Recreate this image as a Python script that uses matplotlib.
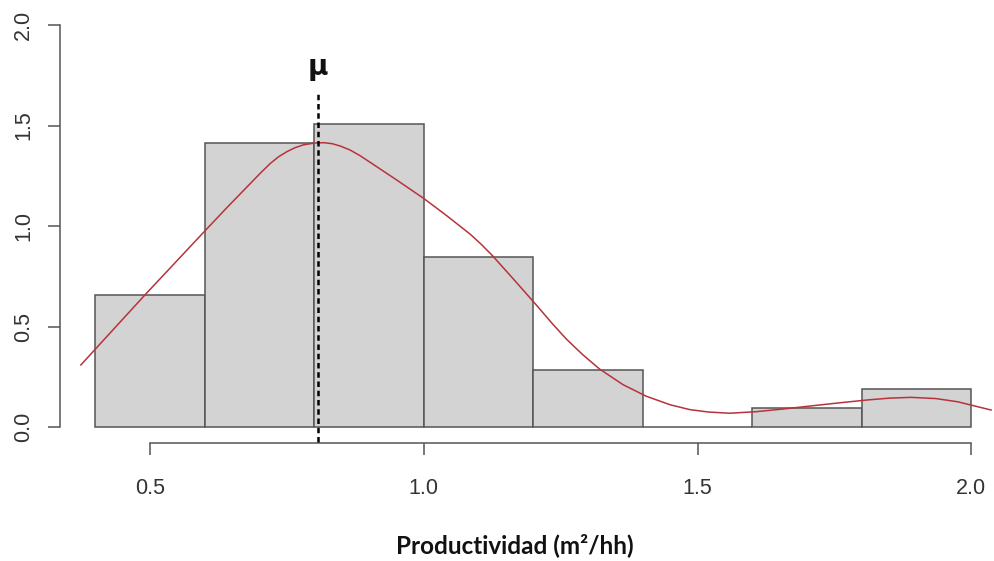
import numpy as np
import matplotlib.pyplot as plt

# histogram (density) of productividad, bins of 0.2
bin_edges = [0.4, 0.6, 0.8, 1.0, 1.2, 1.4, 1.6, 1.8, 2.0]
densidad = [0.660, 1.415, 1.509, 0.849, 0.283, 0.0, 0.094, 0.189]

# density curve
curva_x = [0.374, 0.492, 0.599, 0.641, 0.672, 0.702, 0.720, 0.735, 0.750, 0.765,
           0.780, 0.800, 0.818, 0.833, 0.848, 0.866, 0.884, 0.903, 0.951, 1.000,
           1.043, 1.085, 1.105, 1.125, 1.158, 1.205, 1.235, 1.260, 1.290, 1.321,
           1.364, 1.406, 1.450, 1.486, 1.520, 1.559, 1.608, 1.660, 1.706, 1.760,
           1.810, 1.850, 1.890, 1.935, 1.975, 2.036]
curva_y = [0.310, 0.661, 0.972, 1.093, 1.180, 1.264, 1.312, 1.345, 1.370, 1.390,
           1.404, 1.413, 1.415, 1.410, 1.398, 1.378, 1.350, 1.316, 1.229, 1.138,
           1.050, 0.960, 0.910, 0.855, 0.755, 0.610, 0.515, 0.440, 0.362, 0.290,
           0.212, 0.155, 0.112, 0.088, 0.076, 0.070, 0.078, 0.092, 0.106, 0.122,
           0.136, 0.145, 0.149, 0.143, 0.127, 0.086]

media = 0.807

x_ticks = [0.5, 1.0, 1.5, 2.0]
y_ticks = [0.0, 0.5, 1.0, 1.5, 2.0]

plt.rcParams['font.family'] = ['Liberation Sans', 'DejaVu Sans']

fig = plt.figure(figsize=(9.94, 5.61), dpi=100)
ax = fig.add_axes([0.0604, 0.2096, 0.9521, 0.7745])

widths = np.diff(bin_edges)
ax.bar(bin_edges[:-1], densidad, width=widths, align='edge',
       color='#d3d3d3', edgecolor='#555555', linewidth=1.1, zorder=2)

ax.plot(curva_x, curva_y, color='#b8323c', linewidth=1.1, zorder=3)

ln, = ax.plot([media, media], [-0.071, 1.668], color='black', linewidth=1.8, zorder=4)
ln.set_dashes((2.2, 1.5))
ax.text(media, 1.751, 'μ', ha='center', va='baseline', fontsize=20,
        fontweight='bold', family='DejaVu Sans', color='#111111')

ax.set_xlim(0.336, 2.064)
ax.set_ylim(-0.08, 2.08)

for s in ['top', 'right']:
    ax.spines[s].set_visible(False)
ax.spines['left'].set_bounds(0, 2)
ax.spines['bottom'].set_bounds(0.5, 2.0)
for s in ['left', 'bottom']:
    ax.spines[s].set_color('#555555')
    ax.spines[s].set_linewidth(1.1)

ax.set_xticks(x_ticks)
ax.set_xticklabels([f'{v:.1f}' for v in x_ticks])
ax.set_yticks(y_ticks)
ax.set_yticklabels([f'{v:.1f}' for v in y_ticks], rotation=90, va='center')
ax.tick_params(axis='both', length=8.6, width=1.1, color='#555555',
               labelsize=15.5, labelcolor='#333333')
ax.tick_params(axis='x', pad=16)
ax.tick_params(axis='y', pad=10)

fig.text(515 / 994, 1 - 545 / 561, 'Productividad (m²/hh)', ha='center', va='center',
         fontsize=17.5, fontweight='bold', family=['Lato', 'DejaVu Sans'], color='#111111')

fig.savefig('out.png', dpi=100)
